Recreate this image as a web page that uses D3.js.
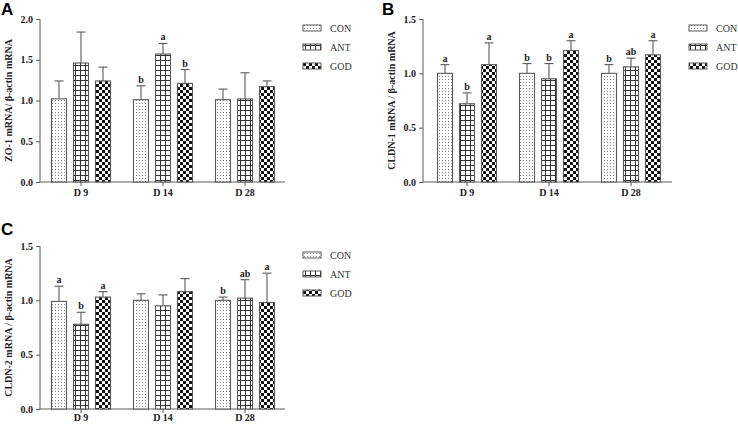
<!DOCTYPE html>
<html><head><meta charset="utf-8">
<script src="https://cdn.jsdelivr.net/npm/d3@7"></script>
<style>body{margin:0;background:#fff}svg{display:block}</style>
</head><body><svg id="c" width="738" height="424"></svg>
<script>
const groups = ["D 9", "D 14", "D 28"];
const series = ["CON", "ANT", "GOD"];

// Panel A: ZO-1
const aMean = {CON: [1.02, 1.01, 1.01], ANT: [1.46, 1.57, 1.02], GOD: [1.24, 1.21, 1.17]};
const aSD   = {CON: [0.22, 0.17, 0.13], ANT: [0.38, 0.13, 0.32], GOD: [0.17, 0.17, 0.07]};
const aSig  = {CON: ["", "b", ""], ANT: ["", "a", ""], GOD: ["", "b", ""]};
// Panel B: CLDN-1
const bMean = {CON: [1.00, 1.00, 1.00], ANT: [0.72, 0.95, 1.06], GOD: [1.08, 1.21, 1.17]};
const bSD   = {CON: [0.08, 0.09, 0.08], ANT: [0.10, 0.14, 0.08], GOD: [0.20, 0.09, 0.13]};
const bSig  = {CON: ["a", "b", "b"], ANT: ["b", "b", "ab"], GOD: ["a", "a", "a"]};
// Panel C: CLDN-2
const cMean = {CON: [0.99, 1.00, 1.00], ANT: [0.78, 0.95, 1.02], GOD: [1.03, 1.08, 0.98]};
const cSD   = {CON: [0.14, 0.06, 0.03], ANT: [0.11, 0.10, 0.17], GOD: [0.05, 0.12, 0.27]};
const cSig  = {CON: ["a", "", "b"], ANT: ["b", "", "ab"], GOD: ["a", "", "a"]};

const aTicks = [0, 0.5, 1.0, 1.5, 2.0];
const bcTicks = [0, 0.5, 1.0, 1.5];

const svg = d3.select("#c");
const defs = svg.append("defs");
const AX = "#5a5a5a";

// patterns
const pDot = defs.append("pattern").attr("id","pCON").attr("patternUnits","userSpaceOnUse").attr("width",3).attr("height",3);
pDot.append("rect").attr("width",3).attr("height",3).attr("fill","#fff");
pDot.append("rect").attr("x",1).attr("y",1).attr("width",1).attr("height",1).attr("fill","#8a8a8a");
const pGrid = defs.append("pattern").attr("id","pANT").attr("patternUnits","userSpaceOnUse").attr("width",5).attr("height",5);
pGrid.append("rect").attr("width",5).attr("height",5).attr("fill","#fff");
pGrid.append("rect").attr("x",0).attr("y",0).attr("width",5).attr("height",1).attr("fill","#333");
pGrid.append("rect").attr("x",0).attr("y",0).attr("width",1).attr("height",5).attr("fill","#333");
const pChk = defs.append("pattern").attr("id","pGOD").attr("patternUnits","userSpaceOnUse").attr("width",6).attr("height",6);
pChk.append("rect").attr("width",6).attr("height",6).attr("fill","#fff");
pChk.append("rect").attr("x",0).attr("y",0).attr("width",3).attr("height",3).attr("fill","#111");
pChk.append("rect").attr("x",3).attr("y",3).attr("width",3).attr("height",3).attr("fill","#111");

const serif = "'Liberation Serif','Times New Roman',serif";

function panel(cfg) {
  const g = svg.append("g");
  const y = d3.scaleLinear().domain([0, cfg.max]).range([cfg.yb, cfg.yt]);
  const x = d3.scaleBand().domain(groups).range([cfg.x0 + cfg.off, cfg.x0 + cfg.off + 246]);
  const xs = d3.scaleBand().domain(series).range([-33, 33]).paddingInner(0.318).paddingOuter(0.159);

  // y axis
  const ya = g.append("g").attr("transform", `translate(${cfg.x0},0)`)
    .call(d3.axisLeft(y).tickValues(cfg.ticks).tickFormat(d3.format(".1f")).tickSizeOuter(0).tickSize(4).tickPadding(3));
  ya.select(".domain").attr("stroke", AX).attr("d", `M0,${cfg.yt}V${cfg.yb}`);
  ya.selectAll(".tick line").attr("stroke", AX);
  ya.selectAll("text").attr("font-family", serif).attr("font-weight","bold").attr("font-size", 10).attr("fill","#222");

  // x axis
  const xa = g.append("g").attr("transform", `translate(0,${cfg.yb})`)
    .call(d3.axisBottom(x).tickSize(4).tickSizeOuter(0).tickPadding(cfg.xpad));
  xa.select(".domain").attr("stroke", AX).attr("d", `M${cfg.x0},0H${cfg.x1}`);
  xa.selectAll(".tick line").attr("stroke", AX);
  xa.selectAll("text").attr("font-family", serif).attr("font-weight","bold").attr("font-size", 10).attr("fill","#222");

  // bars
  series.forEach(s => {
    groups.forEach((gr, i) => {
      const cx = x(gr) + x.bandwidth()/2;
      const bx = cx + xs(s);
      const bw = xs.bandwidth();
      const m = cfg.mean[s][i], sd = cfg.sd[s][i];
      const top = y(m + sd);
      g.append("line").attr("x1", bx + bw/2).attr("x2", bx + bw/2).attr("y1", y(m)).attr("y2", top).attr("stroke", AX).attr("stroke-width", 1.1);
      g.append("line").attr("x1", bx + bw/2 - 4.5).attr("x2", bx + bw/2 + 4.5).attr("y1", top).attr("y2", top).attr("stroke", AX).attr("stroke-width", 1.1);
      g.append("rect").attr("x", bx).attr("y", y(m)).attr("width", bw).attr("height", y(0) - y(m))
        .attr("fill", `url(#p${s})`).attr("stroke", AX).attr("stroke-width", 1.1);
      const lab = cfg.sig[s][i];
      if (lab) g.append("text").attr("x", bx + bw/2).attr("y", top - 3).attr("text-anchor","middle")
        .attr("font-family", serif).attr("font-weight","bold").attr("font-size", 10).attr("fill","#222").text(lab);
    });
  });

  // y title
  g.append("text").attr("transform", `translate(${cfg.tx},${(cfg.yt + cfg.yb)/2}) rotate(-90)`)
    .attr("text-anchor","middle").attr("font-family", serif).attr("font-weight","bold").attr("font-size", 10).attr("fill","#222")
    .text(cfg.title);

  // panel letter
  g.append("text").attr("x", cfg.lx).attr("y", cfg.ly).attr("font-family","'Liberation Sans',Arial,sans-serif")
    .attr("font-weight","bold").attr("font-size", 17).attr("fill","#000").text(cfg.letter);

  // legend
  series.forEach((s, k) => {
    const ly = cfg.legY + k * 19;
    g.append("rect").attr("x", cfg.legX).attr("y", ly - 3).attr("width", 18).attr("height", 6)
      .attr("fill", `url(#p${s})`).attr("stroke", AX).attr("stroke-width", 1);
    g.append("text").attr("x", cfg.legX + 27).attr("y", ly + 3.5).attr("font-family", serif).attr("font-size", 10).attr("fill","#333").text(s);
  });
}

panel({x0: 40, x1: 285, off: 0, yt: 19, yb: 182, max: 2.0, ticks: aTicks, mean: aMean, sd: aSD, sig: aSig, xpad: 3,
  title: "ZO-1 mRNA/ β-actin mRNA", tx: 12, letter: "A", lx: 1, ly: 15, legX: 303, legY: 28});
panel({x0: 423, x1: 672, off: 3, yt: 19, yb: 182, max: 1.5, ticks: bcTicks, mean: bMean, sd: bSD, sig: bSig, xpad: 3,
  title: "CLDN-1 mRNA / β-actin mRNA", tx: 395, letter: "B", lx: 382, ly: 15, legX: 689, legY: 28});
panel({x0: 40, x1: 285, off: 0, yt: 246, yb: 409, max: 1.5, ticks: bcTicks, mean: cMean, sd: cSD, sig: cSig, xpad: 1,
  title: "CLDN-2 mRNA / β-actin mRNA", tx: 12, letter: "C", lx: 1, ly: 235, legX: 303, legY: 255});
</script></body></html>
